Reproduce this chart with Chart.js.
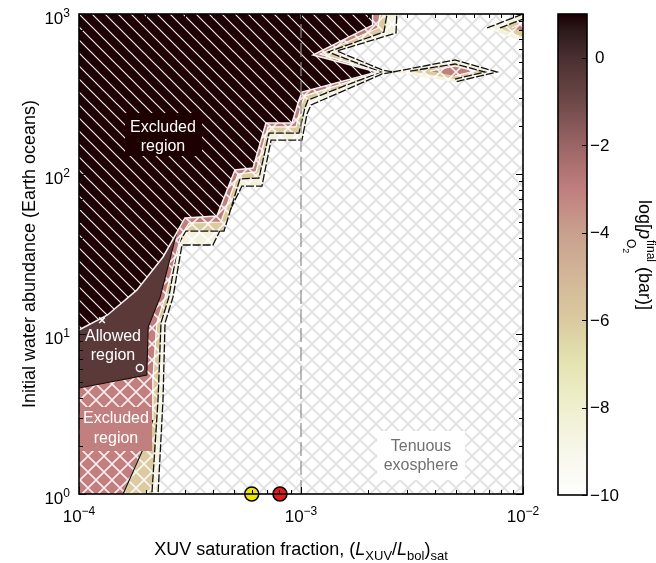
<!DOCTYPE html>
<html>
<head>
<meta charset="utf-8">
<script src="https://cdn.jsdelivr.net/npm/chart.js@4.4.3/dist/chart.umd.min.js"></script>
<style>
  html, body { margin: 0; padding: 0; background: #fff; }
  #wrap { position: relative; width: 656px; height: 563px; }
  #wrap canvas { position: absolute; left: 0; top: 0; }
</style>
</head>
<body>
<div id="wrap">
  <canvas id="main" width="656" height="563"></canvas>
  <canvas id="cbar" width="656" height="563"></canvas>
</div>
<script>
/* ---- data ---- */

// axis ticks
const xMajorTicks = [1e-4, 1e-3, 1e-2];
const xTickExps   = ['\u22124', '\u22123', '\u22122'];
const xMinorTicks = [2e-4, 3e-4, 4e-4, 5e-4, 6e-4, 7e-4, 8e-4, 9e-4,
                     2e-3, 3e-3, 4e-3, 5e-3, 6e-3, 7e-3, 8e-3, 9e-3];
const yMajorTicks = [1, 10, 100, 1000];
const yTickExps   = ['0', '1', '2', '3'];
const yMinorTicks = [2, 3, 4, 5, 6, 7, 8, 9, 20, 30, 40, 50, 60, 70, 80, 90,
                     200, 300, 400, 500, 600, 700, 800, 900];

// colour bar
const cbTicks  = [0, -2, -4, -6, -8, -10];
const cbLevels = [1, 0.6, 0, -1, -2, -3, -4, -5, -6, -7, -8, -9, -10];
const cbColors = ['#1c0000', '#2e1a1a', '#4a3030', '#6e4848', '#9b6565', '#c07e7e',
                  '#c9a08e', '#d3b698', '#dacaa0', '#e5e4b2', '#efefcf', '#f7f7ea', '#fefefd'];

// points just outside the axes, so polygon edges on the frame are clipped away
const OUT_L = 5e-5, OUT_R = 1.3e-2, OUT_B = 0.5, OUT_T = 2000;

// contour edges [x, y]
const darkEdge = [
  [2.11e-3, OUT_T], [2.11e-3, 1000], [2.09e-3, 853], [1.132e-3, 554], [2.20e-3, 434],
  [1.01e-3, 325], [9.79e-4, 290], [9.10e-4, 208], [6.95e-4, 208], [6.08e-4, 109],
  [5.04e-4, 106], [4.18e-4, 54.6], [3.00e-4, 53.1], [2.39e-4, 30.3], [1.82e-4, 18.8],
  [1.34e-4, 13.1], [1e-4, 10.6], [OUT_L, 10.6], [OUT_L, OUT_T]
];
const allowedEdge = [
  [3.00e-4, 53.1], [2.76e-4, 43.4], [2.32e-4, 17.0], [2.05e-4, 11.06], [2.02e-4, 5.54],
  [1e-4, 4.60], [OUT_L, 4.5], [OUT_L, 10.6], [1e-4, 10.6], [1.34e-4, 13.1],
  [1.82e-4, 18.8], [2.39e-4, 30.3]
];
const pinkEdge = [
  [2.27e-3, OUT_T], [2.27e-3, 1000], [2.22e-3, 818], [1.218e-3, 562], [2.245e-3, 434],
  [1.042e-3, 308], [1.01e-3, 278], [9.49e-4, 197], [7.10e-4, 197], [6.27e-4, 103],
  [5.20e-4, 100], [4.36e-4, 50.1], [3.13e-4, 49.4], [2.88e-4, 41.0], [2.44e-4, 17.0],
  [2.24e-4, 11.7], [2.15e-4, 5.16], [2.15e-4, 2.90], [1.98e-4, 2.02], [1.58e-4, 1],
  [1.58e-4, OUT_B], [OUT_L, OUT_B], [OUT_L, OUT_T]
];
const pinkTanEdge = [[2.15e-4, 2.90], [1.98e-4, 2.02], [1.58e-4, 1], [1.58e-4, OUT_B]];
const tanEdge = [
  [2.44e-3, OUT_T], [2.44e-3, 1000], [2.365e-3, 772], [1.323e-3, 579], [2.29e-3, 434],
  [1.075e-3, 290], [1.042e-3, 259], [9.79e-4, 180], [7.18e-4, 180], [6.47e-4, 94.4],
  [5.31e-4, 93.1], [4.50e-4, 44.0], [3.03e-4, 44.0], [2.79e-4, 36.0], [2.54e-4, 17.0],
  [2.34e-4, 11.7], [2.27e-4, 3.87], [2.13e-4, 1], [2.13e-4, OUT_B], [OUT_L, OUT_B], [OUT_L, OUT_T]
];
const paleEdge = [
  [2.70e-3, OUT_T], [2.70e-3, 1000], [2.68e-3, 761], [1.452e-3, 587], [2.32e-3, 447],
  [2.60e-3, 434], [2.32e-3, 422], [1.109e-3, 270], [1.064e-3, 237], [1.01e-3, 163],
  [7.33e-4, 163], [6.67e-4, 84.1], [5.42e-4, 84.1], [4.01e-4, 36.0], [2.91e-4, 36.0],
  [2.65e-4, 17.0], [2.44e-4, 11.7], [2.39e-4, 3.87], [2.27e-4, 1], [2.27e-4, OUT_B],
  [OUT_L, OUT_B], [OUT_L, OUT_T]
];
// island near the top
const islandPale = [[2.60e-3, 434], [4.94e-3, 516], [7.63e-3, 434], [4.94e-3, 376]];
const islandTan  = [[3.10e-3, 440], [4.94e-3, 487], [6.74e-3, 434], [4.94e-3, 392]];
const islandPink = [[3.81e-3, 440], [4.94e-3, 473], [6.08e-3, 440], [4.94e-3, 410]];
// wedge at the top right corner
const cornerPale = [[6.89e-3, 818], [1e-2, 1000], [OUT_R, 1000], [OUT_R, 668], [1e-2, 668]];
const cornerTan  = [[7.87e-3, 818], [1e-2, 930], [OUT_R, 930], [OUT_R, 718], [1e-2, 718]];
const cornerPink = [[8.92e-3, 818], [1e-2, 878], [OUT_R, 878], [OUT_R, 783], [1e-2, 783]];

const satLine   = [[1e-3, 1], [1e-3, 1000]];
const markPts   = [[1.27e-4, 12.2], [1.88e-4, 6.13]];
const starPts   = [[6.0e-4, 1], [8.04e-4, 1]];
const starColors = ['#f2e600', '#e3191c'];

/* ---- helpers ---- */
const F = '"Liberation Sans", Arial, Helvetica, sans-serif';
Chart.defaults.font.family = F;

const pts = arr => arr.map(([x, y]) => ({ x, y }));

function hatch(bg, fg, size, lw, cross) {
  const c = document.createElement('canvas');
  c.width = c.height = size;
  const g = c.getContext('2d');
  g.fillStyle = bg;
  g.fillRect(0, 0, size, size);
  g.strokeStyle = fg;
  g.lineWidth = lw;
  g.beginPath();
  for (const o of [-size, 0, size]) {
    g.moveTo(o - 1, -1); g.lineTo(o + size + 1, size + 1);
    if (cross) { g.moveTo(o - 1, size + 1); g.lineTo(o + size + 1, -1); }
  }
  g.stroke();
  return g.createPattern(c, 'repeat');
}

const greyCross = hatch('#ffffff', '#dedede', 16, 1.6, true);
const darkHatch = hatch('#1e0000', '#eeeeee', 13, 1.2, false);
const pinkCross = hatch('#c27f7f', 'rgba(255,255,255,0.85)', 16, 1.6, true);
const tanCross  = hatch('#dccaa0', 'rgba(255,255,255,0.85)', 16, 1.6, true);
const paleCross = hatch('#f4f2de', 'rgba(255,255,255,0.9)', 16, 1.6, true);

function poly(data, bg, border, width, dash, order) {
  return {
    data: pts(data), fill: 'shape', backgroundColor: bg,
    borderColor: border, borderWidth: width, borderDash: dash || [],
    pointRadius: 0, tension: 0, order, clip: 0
  };
}

function runsDraw(ctx, x, y, runs) {
  let cx = x;
  for (const [t, font, dy] of runs) {
    ctx.font = font;
    ctx.fillText(t, cx, y + dy);
    cx += ctx.measureText(t).width;
  }
}
function runsWidth(ctx, runs) {
  let w = 0;
  for (const [t, font] of runs) { ctx.font = font; w += ctx.measureText(t).width; }
  return w;
}
function powLabel(ctx, x, y, exp, align) {
  const runs = [['10', '17px ' + F, 0], [exp, '12px ' + F, -7]];
  const w = runsWidth(ctx, runs);
  const sx = align === 'center' ? x - w / 2 : x - w;
  runsDraw(ctx, sx, y, runs);
}

/* ---- plugins ---- */
const backdrop = {
  id: 'backdrop',
  beforeDatasetsDraw(chart) {
    const { ctx, chartArea: a } = chart;
    ctx.save();
    ctx.fillStyle = greyCross;
    ctx.fillRect(a.left, a.top, a.right - a.left, a.bottom - a.top);
    ctx.restore();
  }
};

const notes = {
  id: 'notes',
  afterDatasetsDraw(chart) {
    const ctx = chart.ctx;
    ctx.save();
    ctx.fillStyle = '#1e0000'; ctx.fillRect(125, 113, 77, 43);
    ctx.fillStyle = '#c27f7f'; ctx.fillRect(80, 407, 72, 44);
    ctx.fillStyle = '#ffffff'; ctx.fillRect(377, 431, 88, 49);
    ctx.textAlign = 'center';
    ctx.textBaseline = 'middle';
    ctx.font = '16px ' + F;
    ctx.fillStyle = '#ffffff';
    ctx.fillText('Excluded', 163, 128);
    ctx.fillText('region', 163, 147);
    ctx.fillText('Allowed', 113, 337);
    ctx.fillText('region', 113, 356);
    ctx.fillText('Excluded', 116, 419);
    ctx.fillText('region', 116, 439);
    ctx.fillStyle = '#707070';
    ctx.fillText('Tenuous', 421, 447);
    ctx.fillText('exosphere', 421, 466);
    ctx.restore();
  }
};

const frame = {
  id: 'frame',
  afterDraw(chart) {
    const { ctx, chartArea: a, scales: { x, y } } = chart;
    ctx.save();
    ctx.strokeStyle = '#000';
    ctx.lineWidth = 1;
    ctx.beginPath();
    const tick = (vals, len) => {
      for (const v of vals) {
        const px = Math.round(x.getPixelForValue(v)) + 0.5;
        ctx.moveTo(px, a.bottom); ctx.lineTo(px, a.bottom - len);
        ctx.moveTo(px, a.top); ctx.lineTo(px, a.top + len);
      }
    };
    const ytick = (vals, len) => {
      for (const v of vals) {
        const py = Math.round(y.getPixelForValue(v)) + 0.5;
        ctx.moveTo(a.left, py); ctx.lineTo(a.left + len, py);
        ctx.moveTo(a.right, py); ctx.lineTo(a.right - len, py);
      }
    };
    tick(xMajorTicks, 7); tick(xMinorTicks, 4);
    ytick(yMajorTicks, 7); ytick(yMinorTicks, 4);
    ctx.stroke();
    ctx.lineWidth = 1.6;
    ctx.strokeRect(a.left, a.top, a.right - a.left, a.bottom - a.top);

    ctx.fillStyle = '#000';
    ctx.textBaseline = 'alphabetic';
    xMajorTicks.forEach((v, i) => powLabel(ctx, x.getPixelForValue(v), 522, xTickExps[i], 'center'));
    yMajorTicks.forEach((v, i) => powLabel(ctx, 70, y.getPixelForValue(v) + 10, yTickExps[i], 'right'));

    // x title
    const big = '18px ' + F, bigI = 'italic 18px ' + F, sub = '13px ' + F;
    const xr = [['XUV saturation fraction, (', big, 0], ['L', bigI, 0], ['XUV', sub, 5],
                ['/', big, 0], ['L', bigI, 0], ['bol', sub, 5], [')', big, 0], ['sat', sub, 5]];
    runsDraw(ctx, (a.left + a.right) / 2 - runsWidth(ctx, xr) / 2, 555, xr);

    // y title
    ctx.save();
    ctx.translate(35, (a.top + a.bottom) / 2);
    ctx.rotate(-Math.PI / 2);
    ctx.font = big;
    ctx.textAlign = 'center';
    ctx.fillText('Initial water abundance (Earth oceans)', 0, 0);
    ctx.restore();
    ctx.restore();
  }
};

/* ---- main chart ---- */
new Chart(document.getElementById('main'), {
  type: 'line',
  data: {
    datasets: [
      poly(paleEdge, paleCross, '#111', 1.3, [8, 2], 30),
      poly(tanEdge, tanCross, '#111', 1.3, [8, 2], 29),
      poly(pinkEdge, pinkCross, '#ffffff', 1.2, null, 28),
      { data: pts(pinkTanEdge), fill: false, borderColor: '#111', borderWidth: 1.2,
        pointRadius: 0, order: 27, clip: 0 },
      poly(islandPale, paleCross, '#111', 1.3, [8, 2], 26),
      poly(islandTan, tanCross, '#111', 1.3, [8, 2], 25),
      poly(islandPink, pinkCross, '#ffffff', 1.2, null, 24),
      poly(cornerPale, paleCross, '#111', 1.3, [8, 2], 23),
      poly(cornerTan, tanCross, '#111', 1.3, [8, 2], 22),
      poly(cornerPink, pinkCross, '#ffffff', 1.2, null, 21),
      poly(allowedEdge, '#5b3939', '#1a0a0a', 1.1, null, 20),
      poly(darkEdge, darkHatch, '#f4f4f4', 1.5, null, 19),
      { data: pts(satLine), fill: false, borderColor: '#8c8c8c', borderWidth: 1.2,
        borderDash: [14, 5], pointRadius: 0, order: 10, clip: 0 },
      { data: pts(markPts), showLine: false, pointStyle: ['crossRot', 'circle'],
        pointRadius: [4, 3.5], borderColor: '#ffffff', backgroundColor: 'rgba(0,0,0,0)',
        pointBorderWidth: 1.5, order: 5 },
      { data: pts(starPts), showLine: false, pointStyle: 'circle', pointRadius: 7,
        pointBackgroundColor: starColors, pointBorderColor: '#000', pointBorderWidth: 1.5,
        order: 1, clip: false }
    ]
  },
  options: {
    responsive: false,
    animation: false,
    devicePixelRatio: 1,
    layout: { padding: { left: 79, top: 14, right: 133, bottom: 69 } },
    plugins: { legend: { display: false }, tooltip: { enabled: false } },
    scales: {
      x: { type: 'logarithmic', min: 1e-4, max: 1e-2, display: false },
      y: { type: 'logarithmic', min: 1, max: 1000, display: false }
    },
    elements: { line: { tension: 0 } }
  },
  plugins: [backdrop, notes, frame]
});

/* ---- colour bar ---- */
const cbFrame = {
  id: 'cbFrame',
  afterDraw(chart) {
    const { ctx, chartArea: a, scales: { y } } = chart;
    ctx.save();
    ctx.strokeStyle = '#000';
    ctx.lineWidth = 1.2;
    ctx.beginPath();
    for (const v of cbTicks) {
      const py = Math.round(y.getPixelForValue(v)) + 0.5;
      ctx.moveTo(a.right, py); ctx.lineTo(a.right - 5, py);
    }
    ctx.stroke();
    ctx.lineWidth = 1.6;
    ctx.strokeRect(a.left, a.top, a.right - a.left, a.bottom - a.top);

    ctx.fillStyle = '#000';
    ctx.font = '17px ' + F;
    ctx.textBaseline = 'middle';
    for (const v of cbTicks) {
      const lbl = v < 0 ? '\u2212' + Math.abs(v) : String(v);
      ctx.fillText(lbl, v < 0 ? a.right + 3 : a.right + 8, y.getPixelForValue(v) + 1);
    }

    // title, rotated clockwise
    const big = '18px ' + F, bigI = 'italic 18px ' + F, small = '12px ' + F, tiny = '9px ' + F;
    ctx.textBaseline = 'alphabetic';
    ctx.translate(639, 0);
    ctx.rotate(Math.PI / 2);
    ctx.font = big;
    const w1 = ctx.measureText('log[').width;
    ctx.font = bigI;
    const w2 = ctx.measureText('p').width;
    ctx.font = small;
    const wSup = ctx.measureText('final').width;
    const wSub = ctx.measureText('O').width;
    ctx.font = tiny;
    const wSub2 = ctx.measureText('2').width;
    ctx.font = big;
    const w3 = ctx.measureText(' (bar)]').width;
    const total = w1 + w2 + Math.max(wSup, wSub + wSub2) + w3;
    let s = (a.top + a.bottom) / 2 - total / 2;
    ctx.font = big; ctx.fillText('log[', s, 0); s += w1;
    ctx.font = bigI; ctx.fillText('p', s, 0); s += w2;
    ctx.font = small; ctx.fillText('final', s + 1, -8);
    ctx.fillText('O', s, 12);
    ctx.font = tiny; ctx.fillText('2', s + wSub, 16);
    s += Math.max(wSup, wSub + wSub2) + 1;
    ctx.font = big; ctx.fillText(' (bar)]', s, 0);
    ctx.restore();
  }
};

new Chart(document.getElementById('cbar'), {
  type: 'bar',
  data: {
    labels: [''],
    datasets: [{
      data: [[-10, 1]],
      backgroundColor: (c) => {
        const chart = c.chart;
        if (!chart.chartArea) return cbColors[0];
        const y = chart.scales.y;
        const top = y.getPixelForValue(1), bot = y.getPixelForValue(-10);
        const g = chart.ctx.createLinearGradient(0, top, 0, bot);
        cbLevels.forEach((v, i) => g.addColorStop((y.getPixelForValue(v) - top) / (bot - top), cbColors[i]));
        return g;
      },
      borderWidth: 0,
      barPercentage: 1,
      categoryPercentage: 1
    }]
  },
  options: {
    responsive: false,
    animation: false,
    devicePixelRatio: 1,
    layout: { padding: { left: 558, right: 69, top: 14, bottom: 68 } },
    plugins: { legend: { display: false }, tooltip: { enabled: false } },
    scales: {
      x: { display: false },
      y: { min: -10, max: 1, display: false }
    }
  },
  plugins: [cbFrame]
});
</script>
</body>
</html>
